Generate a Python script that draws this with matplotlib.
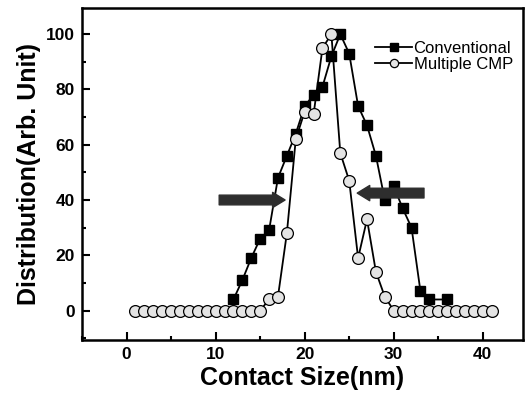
import numpy as np
import matplotlib.pyplot as plt
from matplotlib.ticker import MultipleLocator

plt.rcParams['font.family'] = ['Liberation Sans', 'DejaVu Sans']

# Conventional (filled squares)
conv_x = [12, 13, 14, 15, 16, 17, 18, 19, 20, 21, 22, 23, 24,
          25, 26, 27, 28, 29, 30, 31, 32, 33, 34, 36]
conv_y = [4, 11, 19, 26, 29, 48, 56, 64, 74, 78, 81, 92, 100,
          93, 74, 67, 56, 40, 45, 37, 30, 7, 4, 4]

# Multiple CMP (open grey circles)
mcmp_x = list(range(1, 42))
mcmp_y = [0] * 15 + [4, 5, 28, 62, 72, 71, 95, 100, 57, 47, 19, 33, 14, 5] + [0] * 12

# arrows (start x, end x, y)
arrow_left = (10.4, 17.8, 40)
arrow_right = (33.4, 25.9, 42.5)

fig = plt.figure(figsize=(5.26, 3.97), dpi=100)
ax = fig.add_axes([0.156, 0.144, 0.838, 0.836])

ax.plot(conv_x, conv_y, '-s', color='black', lw=1.3, ms=7.5,
        mfc='black', mec='black', label='Conventional', zorder=3)
ax.plot(mcmp_x, mcmp_y, '-o', color='black', lw=1.3, ms=8.5,
        mfc='#e4e4e4', mec='black', mew=0.9, label='Multiple CMP', zorder=4)

for x0, x1, y in (arrow_left, arrow_right):
    ax.annotate('', xy=(x1, y), xytext=(x0, y),
                arrowprops=dict(arrowstyle='simple,head_length=0.9,head_width=1.1,tail_width=0.7',
                                fc='#2e2e2e', ec='#2e2e2e', shrinkA=0, shrinkB=0),
                zorder=5)

ax.set_xlim(-5, 44.5)
ax.set_ylim(-10.6, 109.5)
ax.xaxis.set_major_locator(MultipleLocator(10))
ax.xaxis.set_minor_locator(MultipleLocator(5))
ax.yaxis.set_major_locator(MultipleLocator(20))
ax.yaxis.set_minor_locator(MultipleLocator(10))
ax.tick_params(which='both', direction='in', width=1.5)
ax.tick_params(which='major', length=6, labelsize=12.5, pad=5)
ax.tick_params(which='minor', length=3)
for lab in ax.get_xticklabels() + ax.get_yticklabels():
    lab.set_fontweight('bold')
for s in ax.spines.values():
    s.set_linewidth(1.8)

ax.set_xlabel('Contact Size(nm)', fontsize=18, fontweight='bold', labelpad=3)
ax.set_ylabel('Distribution(Arb. Unit)', fontsize=18, fontweight='bold', labelpad=4)

ax.legend(loc='upper right', bbox_to_anchor=(1.0, 0.93), frameon=False,
          fontsize=12, markerscale=0.7, handlelength=2.2, handletextpad=0.1,
          labelspacing=0.05, borderaxespad=0.2)

plt.savefig('out.png', dpi=100)
